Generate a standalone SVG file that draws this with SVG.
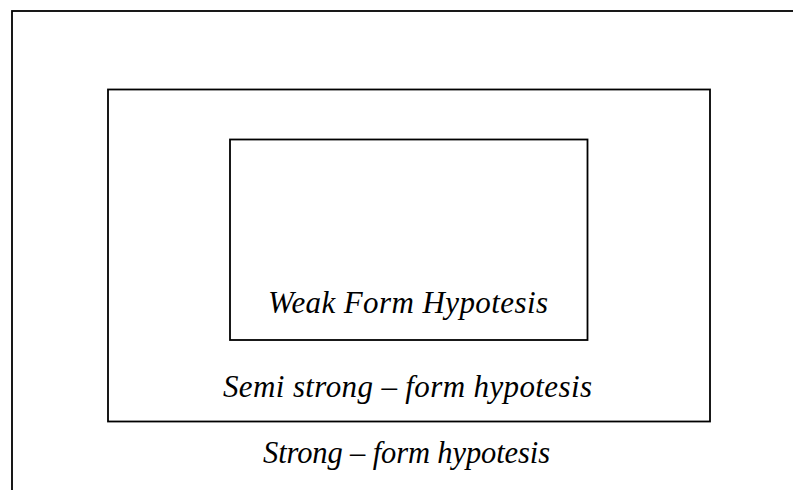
<svg xmlns="http://www.w3.org/2000/svg" width="793" height="490" viewBox="0 0 793 490">
<style>
.box{fill:none;stroke:#000;stroke-width:1.8}
.lbl{font-family:"Liberation Serif","Times New Roman",serif;font-style:italic;font-size:31px;fill:#000;text-anchor:middle}
</style>
<rect width="793" height="490" fill="#fff"/>
<g id="strong">
<rect class="box" x="12" y="11" width="800" height="500"/>
<text class="lbl" x="406.5" y="463" textLength="287" style="font-size:30.5px">Strong – form hypotesis</text>
</g>
<g id="semi-strong">
<rect class="box" x="108" y="89.5" width="602" height="332"/>
<text class="lbl" x="407.5" y="397" textLength="369">Semi strong – form hypotesis</text>
</g>
<g id="weak">
<rect class="box" x="230" y="139.5" width="357.5" height="200.5"/>
<text class="lbl" x="408" y="313" textLength="280">Weak Form Hypotesis</text>
</g>
<g id="connectors"/>
</svg>
